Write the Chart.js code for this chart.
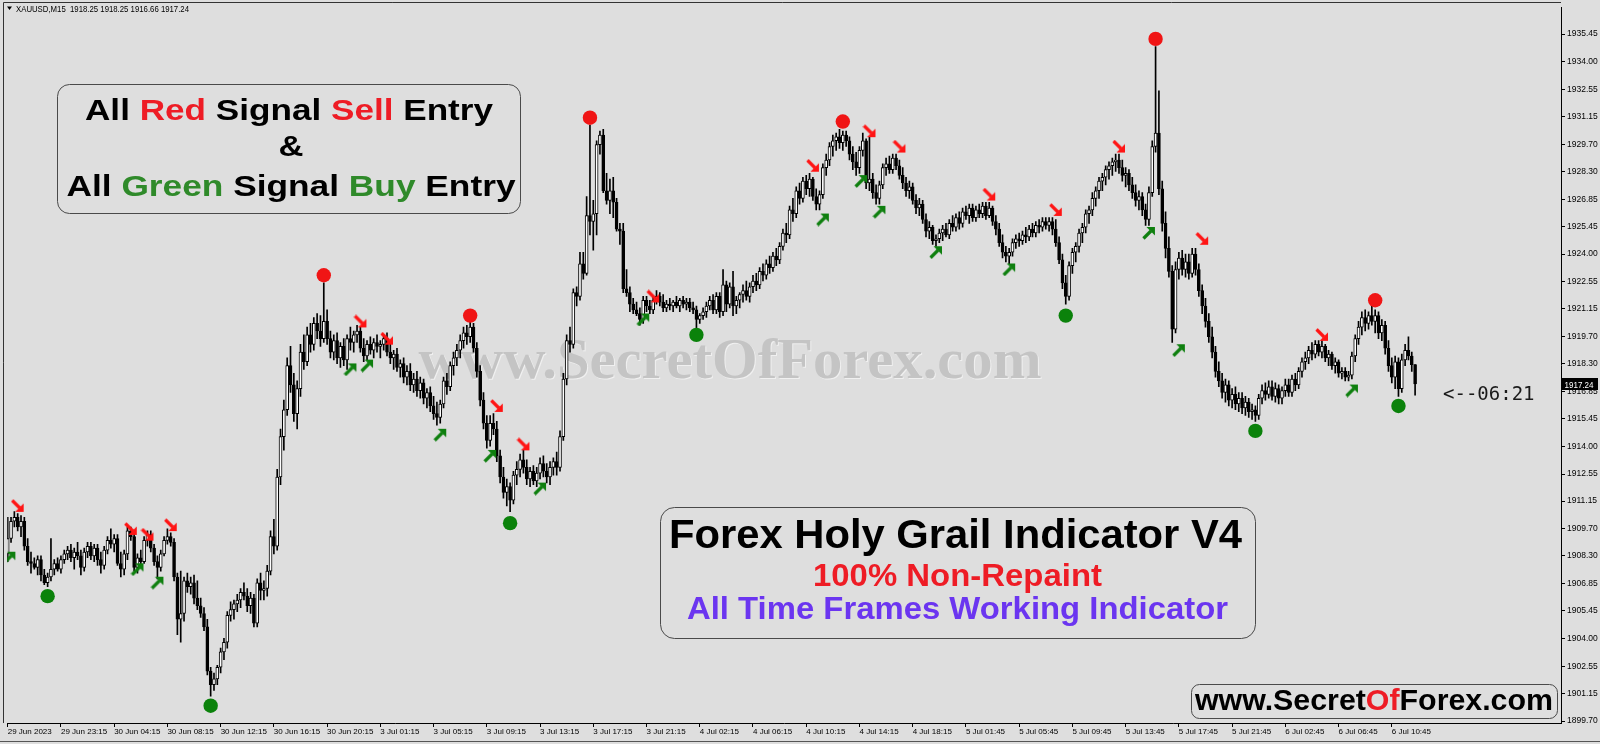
<!DOCTYPE html>
<html>
<head>
<meta charset="utf-8">
<script src="https://cdn.jsdelivr.net/npm/chart.js@4.4.1/dist/chart.umd.min.js"></script>
<style>
  html, body { margin: 0; padding: 0; background: #dedede; }
  canvas { display: block; }
</style>
</head>
<body>
<canvas id="chart" width="1600" height="744"></canvas>
<script>
// XAUUSD M15, bars (open, high, low, close)
const ohlc = [
  [1908.4,1910.3,1908.0,1909.2],[1909.2,1910.3,1909.0,1910.1],[1910.1,1910.6,1909.8,1910.3],[1910.3,1910.5,1909.6,1909.8],[1909.8,1910.4,1909.3,1910.1],
  [1910.1,1910.3,1908.6,1908.8],[1908.8,1909.2,1907.8,1908.0],[1908.0,1908.5,1907.4,1907.9],[1907.9,1908.2,1907.6,1907.7],[1907.7,1908.3,1907.3,1908.1],
  [1908.1,1908.3,1907.0,1907.3],[1907.3,1907.6,1906.8,1906.9],[1906.9,1907.4,1906.7,1907.2],[1907.2,1909.2,1907.0,1907.6],[1907.6,1908.1,1907.3,1907.9],
  [1907.9,1908.2,1907.5,1907.6],[1907.6,1908.3,1907.4,1908.1],[1908.1,1908.6,1907.9,1908.4],[1908.4,1908.8,1908.1,1908.6],[1908.6,1908.9,1908.0,1908.2],
  // 20
  [1908.2,1908.7,1907.6,1908.5],[1908.5,1909.0,1908.1,1908.3],[1908.3,1908.6,1907.3,1907.7],[1907.7,1908.7,1907.5,1908.5],[1908.5,1909.0,1908.2,1908.8],
  [1908.8,1909.0,1908.1,1908.3],[1908.3,1908.9,1908.0,1908.7],[1908.7,1908.9,1907.8,1908.1],[1908.1,1908.5,1907.4,1907.8],[1907.8,1908.8,1907.6,1908.6],
  [1908.6,1909.3,1908.4,1909.1],[1909.1,1909.7,1908.7,1908.9],[1908.9,1909.4,1908.5,1909.2],[1909.2,1909.4,1907.8,1907.9],[1907.9,1908.5,1907.2,1907.6],
  [1907.6,1908.6,1907.3,1908.4],[1908.4,1909.8,1908.1,1909.6],[1909.6,1909.8,1909.1,1909.3],[1909.3,1909.6,1907.5,1907.7],[1907.7,1908.4,1907.4,1908.2],
  // 40
  [1908.2,1908.6,1907.8,1908.0],[1908.0,1909.3,1907.9,1909.1],[1909.1,1909.6,1908.8,1909.4],[1909.4,1909.6,1908.5,1908.7],[1908.7,1908.9,1907.8,1908.0],
  [1908.0,1908.3,1907.1,1907.7],[1907.7,1908.6,1907.5,1908.4],[1908.4,1909.3,1908.3,1909.1],[1909.1,1909.7,1908.9,1909.3],[1909.3,1909.5,1908.8,1909.0],
  [1909.0,1909.2,1907.0,1907.2],[1907.2,1907.4,1904.2,1905.0],[1905.0,1907.5,1903.8,1905.3],[1905.3,1907.2,1904.9,1907.0],[1907.0,1907.4,1906.4,1906.7],
  [1906.7,1907.2,1906.3,1906.9],[1906.9,1907.3,1905.8,1906.1],[1906.1,1907.0,1905.5,1905.7],[1905.7,1906.1,1905.1,1905.3],[1905.3,1905.6,1904.4,1904.6],
  // 60
  [1904.6,1905.0,1902.1,1902.3],[1902.3,1902.5,1901.0,1901.6],[1901.6,1902.2,1901.3,1901.9],[1901.9,1902.6,1901.6,1902.5],[1902.5,1903.5,1902.2,1903.3],
  [1903.3,1904.0,1902.9,1903.8],[1903.8,1905.4,1903.5,1905.2],[1905.2,1905.9,1904.9,1905.5],[1905.5,1906.0,1905.0,1905.8],[1905.8,1906.3,1905.4,1906.0],
  [1906.0,1906.6,1905.6,1906.4],[1906.4,1906.9,1906.0,1906.2],[1906.2,1906.6,1905.4,1905.7],[1905.7,1906.4,1905.3,1906.1],[1906.1,1906.3,1904.6,1904.8],
  [1904.8,1907.1,1904.6,1906.9],[1906.9,1907.4,1906.0,1906.5],[1906.5,1907.0,1906.0,1906.6],[1906.6,1907.8,1906.2,1907.5],[1907.5,1909.6,1907.3,1909.3],
  // 80
  [1909.3,1910.2,1908.4,1908.8],[1908.8,1912.8,1908.6,1912.4],[1912.4,1914.9,1912.0,1914.5],[1914.5,1916.4,1913.8,1915.9],[1915.9,1918.6,1915.6,1918.2],
  [1918.2,1919.2,1916.8,1917.2],[1917.2,1917.8,1915.3,1915.7],[1915.7,1917.4,1914.9,1917.0],[1917.0,1919.3,1916.6,1918.9],[1918.9,1919.8,1918.0,1918.4],
  [1918.4,1920.2,1918.2,1919.8],[1919.8,1920.4,1918.9,1919.3],[1919.3,1920.7,1919.0,1920.4],[1920.4,1920.9,1919.6,1920.0],[1920.0,1920.8,1919.2,1919.6],
  [1919.6,1922.5,1919.4,1920.5],[1920.5,1921.1,1919.3,1919.6],[1919.6,1920.0,1918.6,1918.9],[1918.9,1919.8,1918.5,1919.5],[1919.5,1919.9,1918.3,1918.6],
  // 100
  [1918.6,1919.4,1918.1,1919.2],[1919.2,1919.6,1918.2,1918.5],[1918.5,1919.8,1918.0,1919.6],[1919.6,1920.2,1919.0,1919.4],[1919.4,1920.0,1918.9,1919.8],
  [1919.8,1920.3,1919.4,1920.0],[1920.0,1920.2,1918.9,1919.1],[1919.1,1919.6,1918.4,1918.7],[1918.7,1919.5,1918.5,1919.3],[1919.3,1919.7,1918.8,1919.0],
  [1919.0,1919.6,1918.6,1919.4],[1919.4,1919.8,1918.9,1919.2],[1919.2,1919.5,1918.6,1919.3],[1919.3,1919.8,1919.0,1919.6],[1919.6,1919.9,1918.7,1918.9],
  [1918.9,1919.3,1918.3,1918.6],[1918.6,1919.0,1918.0,1918.8],[1918.8,1919.1,1917.9,1918.1],[1918.1,1918.5,1917.6,1918.3],[1918.3,1918.6,1917.3,1917.6],
  // 120
  [1917.6,1918.2,1917.2,1917.9],[1917.9,1918.3,1916.9,1917.2],[1917.2,1917.8,1916.8,1917.5],[1917.5,1917.9,1916.6,1916.9],[1916.9,1917.6,1916.5,1917.3],
  [1917.3,1917.5,1916.2,1916.5],[1916.5,1917.0,1916.0,1916.8],[1916.8,1917.1,1915.8,1916.1],[1916.1,1916.6,1915.4,1915.7],[1915.7,1916.3,1915.1,1915.5],
  [1915.5,1916.4,1915.2,1916.2],[1916.2,1917.6,1916.0,1917.4],[1917.4,1917.8,1916.7,1917.1],[1917.1,1918.4,1916.9,1918.2],[1918.2,1918.9,1917.7,1918.6],
  [1918.6,1919.3,1918.2,1919.0],[1919.0,1919.8,1918.6,1919.5],[1919.5,1920.2,1919.1,1919.9],[1919.9,1920.3,1919.3,1919.7],[1919.7,1920.5,1919.4,1920.2],
  // 140
  [1920.2,1920.4,1918.9,1919.1],[1919.1,1919.4,1917.6,1917.9],[1917.9,1918.2,1916.1,1916.4],[1916.4,1916.8,1914.9,1915.2],[1915.2,1915.6,1913.9,1914.3],
  [1914.3,1915.6,1914.0,1915.2],[1915.2,1915.7,1914.6,1914.9],[1914.9,1915.3,1913.2,1913.5],[1913.5,1913.8,1912.1,1912.4],[1912.4,1912.9,1911.3,1911.6],
  [1911.6,1912.3,1910.9,1911.9],[1911.9,1912.1,1910.6,1911.2],[1911.2,1912.7,1911.0,1912.5],[1912.5,1913.2,1912.0,1912.8],[1912.8,1913.6,1912.4,1913.3],
  [1913.3,1913.8,1912.6,1912.9],[1912.9,1913.3,1912.0,1912.3],[1912.3,1912.9,1911.9,1912.7],[1912.7,1913.0,1912.0,1912.2],[1912.2,1912.9,1911.9,1912.6],
  // 160
  [1912.6,1913.4,1912.3,1913.1],[1913.1,1913.5,1912.4,1912.7],[1912.7,1913.1,1912.1,1912.4],[1912.4,1913.2,1912.0,1912.9],[1912.9,1913.4,1912.5,1913.2],
  [1913.2,1913.7,1912.5,1912.9],[1912.9,1914.8,1912.7,1914.5],[1914.5,1917.8,1914.3,1917.5],[1917.5,1919.8,1917.2,1919.5],[1919.5,1920.2,1918.9,1919.3],
  [1919.3,1922.2,1919.1,1922.0],[1922.0,1922.3,1921.3,1921.8],[1921.8,1924.1,1921.6,1923.5],[1923.5,1924.1,1922.7,1923.0],[1923.0,1927.0,1922.9,1926.0],
  [1926.0,1930.7,1925.0,1925.7],[1925.7,1926.8,1924.2,1926.1],[1926.1,1929.9,1925.0,1929.7],[1929.7,1930.4,1929.2,1930.2],[1930.2,1930.5,1927.2,1927.3],
  // 180
  [1927.3,1928.2,1926.6,1926.8],[1926.8,1927.9,1926.1,1927.3],[1927.3,1928.0,1925.9,1926.7],[1926.7,1926.9,1925.2,1925.3],[1925.3,1925.6,1924.5,1925.2],
  [1925.2,1925.6,1922.0,1922.2],[1922.2,1923.2,1921.8,1922.0],[1922.0,1922.3,1921.0,1921.4],[1921.4,1921.7,1920.9,1921.1],[1921.1,1921.5,1920.8,1920.9],
  [1920.9,1921.2,1920.3,1920.6],[1920.6,1921.8,1920.4,1921.6],[1921.6,1921.8,1921.0,1921.3],[1921.3,1921.6,1920.9,1921.1],[1921.1,1921.8,1920.9,1921.6],
  [1921.6,1922.1,1921.4,1921.8],[1921.8,1922.0,1921.3,1921.5],[1921.5,1921.9,1921.0,1921.2],[1921.2,1921.6,1921.0,1921.4],[1921.4,1921.7,1921.1,1921.3],
  // 200
  [1921.3,1921.6,1921.0,1921.5],[1921.5,1921.8,1921.2,1921.3],[1921.3,1921.7,1921.0,1921.6],[1921.6,1921.8,1921.2,1921.4],[1921.4,1921.7,1921.1,1921.5],
  [1921.5,1921.7,1921.0,1921.2],[1921.2,1921.5,1920.9,1921.1],[1921.1,1921.3,1920.1,1920.6],[1920.6,1920.9,1920.4,1920.8],[1920.8,1921.2,1920.6,1921.0],
  [1921.0,1921.5,1920.7,1921.3],[1921.3,1921.8,1921.1,1921.6],[1921.6,1921.9,1920.9,1921.1],[1921.1,1922.0,1920.9,1921.8],[1921.8,1922.0,1920.7,1921.0],
  [1921.0,1923.2,1920.8,1922.4],[1922.4,1922.6,1921.0,1921.4],[1921.4,1922.5,1921.2,1922.3],[1922.3,1923.1,1920.8,1921.3],[1921.3,1921.8,1920.9,1921.6],
  // 220
  [1921.6,1922.0,1921.2,1921.9],[1921.9,1922.4,1921.5,1922.1],[1922.1,1922.6,1921.6,1921.8],[1921.8,1922.5,1921.5,1922.3],[1922.3,1922.9,1922.0,1922.6],
  [1922.6,1923.0,1922.1,1922.4],[1922.4,1923.3,1922.2,1923.1],[1923.1,1923.5,1922.6,1922.9],[1922.9,1923.7,1922.7,1923.5],[1923.5,1923.9,1923.0,1923.3],
  [1923.3,1924.1,1923.1,1923.9],[1923.9,1924.3,1923.4,1923.7],[1923.7,1924.6,1923.5,1924.4],[1924.4,1925.3,1924.2,1925.1],[1925.1,1925.6,1924.6,1925.0],
  [1925.0,1926.5,1924.8,1926.3],[1926.3,1926.9,1925.7,1926.1],[1926.1,1927.5,1925.9,1927.3],[1927.3,1927.7,1926.6,1926.9],[1926.9,1928.0,1926.7,1927.8],
  // 240
  [1927.8,1928.1,1927.1,1927.4],[1927.4,1928.2,1927.0,1927.9],[1927.9,1928.0,1926.8,1927.0],[1927.0,1927.4,1926.3,1926.6],[1926.6,1927.3,1926.3,1927.1],
  [1927.1,1928.7,1926.9,1928.5],[1928.5,1929.2,1928.1,1928.9],[1928.9,1929.8,1928.6,1929.6],[1929.6,1930.2,1929.1,1929.9],[1929.9,1930.3,1929.4,1930.1],
  [1930.1,1930.5,1929.5,1929.8],[1929.8,1930.4,1929.4,1930.2],[1930.2,1930.4,1929.6,1929.9],[1929.9,1930.1,1928.9,1929.2],[1929.2,1929.6,1928.4,1928.8],
  [1928.8,1929.3,1928.1,1928.5],[1928.5,1929.6,1928.2,1929.4],[1929.4,1930.3,1929.1,1929.9],[1929.9,1930.0,1927.4,1927.7],[1927.7,1930.1,1927.3,1927.9],
  // 260
  [1927.9,1928.2,1926.9,1927.2],[1927.2,1927.6,1926.6,1926.9],[1926.9,1927.8,1926.6,1927.6],[1927.6,1928.7,1927.4,1928.5],[1928.5,1929.0,1928.1,1928.7],
  [1928.7,1929.1,1928.2,1928.4],[1928.4,1929.2,1928.2,1929.0],[1929.0,1929.2,1928.4,1928.6],[1928.6,1928.9,1927.9,1928.1],[1928.1,1928.5,1927.4,1927.7],
  [1927.7,1928.0,1927.0,1927.3],[1927.3,1927.8,1926.9,1927.5],[1927.5,1927.7,1926.6,1926.8],[1926.8,1927.1,1926.1,1926.4],[1926.4,1926.9,1926.0,1926.6],
  [1926.6,1926.8,1925.6,1925.8],[1925.8,1926.1,1924.9,1925.2],[1925.2,1925.7,1924.8,1925.4],[1925.4,1925.5,1924.5,1924.7],[1924.7,1925.0,1924.4,1924.8],
  // 280
  [1924.8,1925.3,1924.6,1925.1],[1925.1,1925.5,1924.7,1925.3],[1925.3,1925.6,1924.9,1925.0],[1925.0,1925.8,1924.8,1925.6],[1925.6,1926.0,1925.2,1925.4],
  [1925.4,1926.1,1925.2,1925.9],[1925.9,1926.2,1925.3,1925.6],[1925.6,1926.4,1925.4,1926.2],[1926.2,1926.5,1925.8,1926.0],[1926.0,1926.6,1925.6,1926.4],
  [1926.4,1926.6,1925.7,1925.9],[1925.9,1926.5,1925.7,1926.3],[1926.3,1926.6,1925.9,1926.1],[1926.1,1926.7,1925.9,1926.5],[1926.5,1926.7,1925.8,1926.0],
  [1926.0,1926.7,1925.9,1926.4],[1926.4,1926.5,1925.5,1925.7],[1925.7,1926.0,1925.0,1925.3],[1925.3,1925.6,1924.4,1924.6],[1924.6,1925.0,1923.8,1924.1],
  // 300
  [1924.1,1924.4,1923.6,1923.9],[1923.9,1924.3,1923.5,1924.1],[1924.1,1924.8,1923.9,1924.6],[1924.6,1925.0,1924.3,1924.8],[1924.8,1925.1,1924.4,1924.7],
  [1924.7,1925.2,1924.5,1925.0],[1925.0,1925.4,1924.6,1924.9],[1924.9,1925.5,1924.7,1925.3],[1925.3,1925.6,1924.9,1925.1],[1925.1,1925.7,1924.9,1925.5],
  [1925.5,1925.8,1925.1,1925.4],[1925.4,1925.9,1925.2,1925.7],[1925.7,1925.9,1925.3,1925.5],[1925.5,1925.9,1925.2,1925.7],[1925.7,1925.9,1925.0,1925.3],
  [1925.3,1925.8,1924.4,1924.6],[1924.6,1924.9,1923.5,1923.7],[1923.7,1924.0,1922.2,1922.5],[1922.5,1922.9,1921.4,1921.8],[1921.8,1923.6,1921.6,1923.4],
  // 320
  [1923.4,1924.3,1923.0,1924.1],[1924.1,1924.6,1923.6,1924.4],[1924.4,1925.3,1924.1,1925.1],[1925.1,1925.6,1924.6,1925.4],[1925.4,1926.3,1925.1,1926.1],
  [1926.1,1926.5,1925.6,1926.3],[1926.3,1927.2,1926.0,1926.9],[1926.9,1927.5,1926.5,1927.3],[1927.3,1928.0,1926.9,1927.8],[1927.8,1928.2,1927.3,1928.0],
  [1928.0,1928.6,1927.6,1928.4],[1928.4,1928.8,1927.9,1928.6],[1928.6,1929.0,1928.1,1928.8],[1928.8,1929.2,1928.3,1928.9],[1928.9,1929.2,1928.2,1928.5],
  [1928.5,1928.9,1927.8,1928.1],[1928.1,1928.5,1927.5,1928.2],[1928.2,1928.4,1927.3,1927.6],[1927.6,1928.0,1926.9,1927.2],[1927.2,1927.6,1926.5,1926.8],
  // 340
  [1926.8,1927.3,1926.3,1927.0],[1927.0,1927.2,1926.0,1926.3],[1926.3,1926.6,1925.5,1925.8],[1925.8,1927.5,1925.5,1927.2],[1927.2,1929.9,1927.0,1929.6],
  [1929.6,1934.8,1929.3,1930.3],[1930.3,1932.5,1927.1,1927.4],[1927.4,1927.8,1925.2,1925.6],[1925.6,1926.2,1923.8,1924.3],[1924.3,1924.9,1922.8,1923.1],
  [1923.1,1923.4,1919.4,1920.1],[1920.1,1923.6,1919.9,1923.2],[1923.2,1924.1,1922.7,1923.8],[1923.8,1924.2,1922.9,1923.2],[1923.2,1924.0,1922.8,1923.6],
  [1923.6,1924.0,1922.7,1923.0],[1923.0,1924.3,1922.8,1924.0],[1924.0,1924.3,1922.9,1923.2],[1923.2,1923.5,1921.8,1922.1],[1922.1,1922.4,1920.9,1921.3],
  // 360
  [1921.3,1921.7,1920.2,1920.5],[1920.5,1920.9,1919.4,1919.7],[1919.7,1920.2,1918.6,1918.9],[1918.9,1919.2,1917.6,1917.9],[1917.9,1918.4,1917.1,1917.4],
  [1917.4,1917.8,1916.5,1916.8],[1916.8,1917.5,1916.3,1917.2],[1917.2,1917.4,1916.1,1916.4],[1916.4,1917.0,1916.0,1916.7],[1916.7,1917.1,1915.9,1916.2],
  [1916.2,1916.8,1915.8,1916.5],[1916.5,1916.8,1915.7,1916.0],[1916.0,1916.6,1915.6,1916.3],[1916.3,1916.5,1915.5,1915.8],[1915.8,1916.2,1915.4,1915.9],
  [1915.9,1916.1,1915.3,1915.6],[1915.6,1916.7,1915.4,1916.5],[1916.5,1917.2,1916.2,1916.9],[1916.9,1917.3,1916.4,1916.7],[1916.7,1917.4,1916.5,1917.1],
  // 380
  [1917.1,1917.4,1916.4,1916.6],[1916.6,1917.3,1916.3,1917.0],[1917.0,1917.2,1916.2,1916.5],[1916.5,1917.1,1916.2,1916.9],[1916.9,1917.5,1916.6,1917.2],
  [1917.2,1917.5,1916.6,1916.8],[1916.8,1917.7,1916.6,1917.5],[1917.5,1917.8,1916.9,1917.2],[1917.2,1918.1,1917.0,1917.9],[1917.9,1918.6,1917.6,1918.4],
  [1918.4,1918.9,1918.0,1918.6],[1918.6,1919.2,1918.3,1919.0],[1919.0,1919.4,1918.5,1918.8],[1918.8,1919.5,1918.6,1919.3],[1919.3,1919.5,1918.7,1918.9],
  [1918.9,1919.5,1918.6,1919.2],[1919.2,1919.3,1918.4,1918.6],[1918.6,1919.0,1918.2,1918.8],[1918.8,1918.9,1918.0,1918.2],[1918.2,1918.6,1917.8,1918.4],
  // 400
  [1918.4,1918.5,1917.6,1917.8],[1917.8,1918.1,1917.5,1917.9],[1917.9,1918.1,1917.4,1917.6],[1917.6,1917.9,1917.4,1917.7],[1917.7,1918.9,1917.5,1918.7],
  [1918.7,1919.8,1918.4,1919.6],[1919.6,1920.5,1919.3,1920.2],[1920.2,1921.0,1919.8,1920.7],[1920.7,1921.1,1920.0,1920.4],[1920.4,1921.0,1920.1,1920.8],
  [1920.8,1921.3,1920.3,1920.5],[1920.5,1921.1,1919.9,1920.8],[1920.8,1921.0,1919.6,1919.9],[1919.9,1920.6,1919.5,1920.3],[1920.3,1920.5,1918.8,1919.1],
  [1919.1,1919.5,1917.9,1918.2],[1918.2,1918.6,1917.3,1917.6],[1917.6,1918.7,1917.0,1918.4],[1918.4,1918.6,1916.6,1917.0],[1917.0,1918.8,1916.8,1918.5],
  // 420
  [1918.5,1919.3,1918.2,1919.0],[1919.0,1919.7,1918.5,1918.7],[1918.7,1918.9,1917.9,1918.25],[1918.25,1918.25,1916.66,1917.24]
];

// indicator signals: [bar index, price]
const sellDots = [[95, 1922.9], [139, 1920.8], [175, 1931.1], [251, 1930.9], [345, 1935.2], [411, 1921.6]];
const buyDots = [[12, 1906.2], [61, 1900.5], [151, 1910.0], [207, 1919.8], [318, 1920.8], [375, 1914.8], [418, 1916.1]];
const sellArrows = [[3, 1910.9], [37, 1909.7], [42, 1909.4], [49, 1909.9], [106, 1920.5], [114, 1919.6], [147, 1916.1],
  [155, 1914.1], [194, 1921.8], [242, 1928.6], [259, 1930.4], [268, 1929.6], [295, 1927.1], [315, 1926.3], [334, 1929.6],
  [359, 1924.8], [395, 1919.8]];
const buyArrows = [[0.5, 1908.2], [39, 1907.6], [45, 1906.9], [103, 1918.0], [108, 1918.2], [130, 1914.6], [145, 1913.5],
  [160, 1911.8], [191, 1920.6], [245, 1925.8], [256.5, 1927.8], [262, 1926.2], [279, 1924.1], [301, 1923.2], [343, 1925.1],
  [352, 1919.0], [404, 1916.9]];

// one label every 16 bars
const xTickLabels = ['29 Jun 2023', '29 Jun 23:15', '30 Jun 04:15', '30 Jun 08:15', '30 Jun 12:15', '30 Jun 16:15',
  '30 Jun 20:15', '3 Jul 01:15', '3 Jul 05:15', '3 Jul 09:15', '3 Jul 13:15', '3 Jul 17:15', '3 Jul 21:15',
  '4 Jul 02:15', '4 Jul 06:15', '4 Jul 10:15', '4 Jul 14:15', '4 Jul 18:15', '5 Jul 01:45', '5 Jul 05:45',
  '5 Jul 09:45', '5 Jul 13:45', '5 Jul 17:45', '5 Jul 21:45', '6 Jul 02:45', '6 Jul 06:45', '6 Jul 10:45'];
const yTickValues = [1935.45, 1934.00, 1932.55, 1931.15, 1929.70, 1928.30, 1926.85, 1925.45, 1924.00, 1922.55,
  1921.15, 1919.70, 1918.30, 1916.85, 1915.45, 1914.00, 1912.55, 1911.15, 1909.70, 1908.30, 1906.85, 1905.45,
  1904.00, 1902.55, 1901.15, 1899.70];

const BG = '#dedede';
const RED = '#ee1c25';
const GREEN = '#2f8a2a';
const PURPLE = '#6b35f0';

function makeArrow(color, down) {
  const c = document.createElement('canvas');
  c.width = 14; c.height = 14;
  const g = c.getContext('2d');
  g.fillStyle = color; g.strokeStyle = color; g.lineWidth = 3.2;
  g.beginPath();
  if (down) {
    g.moveTo(1.5, 1.5); g.lineTo(9, 9); g.stroke();
    g.beginPath(); g.moveTo(13, 13); g.lineTo(13, 4.5); g.lineTo(4.5, 13);
  } else {
    g.moveTo(1.5, 12.5); g.lineTo(9, 5); g.stroke();
    g.beginPath(); g.moveTo(13, 1); g.lineTo(4.5, 1); g.lineTo(13, 9.5);
  }
  g.closePath(); g.fill();
  return c;
}

function drawRuns(ctx, runs, cx, baseline, font, targetWidth) {
  ctx.font = font;
  const widths = runs.map(r => ctx.measureText(r[0]).width);
  const total = widths.reduce((a, b) => a + b, 0);
  const sx = targetWidth ? targetWidth / total : 1;
  ctx.save();
  ctx.translate(cx - total * sx / 2, baseline);
  ctx.scale(sx, 1);
  ctx.textAlign = 'left';
  ctx.textBaseline = 'alphabetic';
  let x = 0;
  runs.forEach((r, i) => { ctx.fillStyle = r[1]; ctx.fillText(r[0], x, 0); x += widths[i]; });
  ctx.restore();
}

function roundBox(ctx, x1, y1, x2, y2, r) {
  ctx.beginPath();
  ctx.roundRect(x1 + 0.5, y1 + 0.5, x2 - x1, y2 - y1, r);
  ctx.fillStyle = BG;
  ctx.fill();
  ctx.lineWidth = 1;
  ctx.strokeStyle = '#4a4a4a';
  ctx.stroke();
}

const backdrop = {
  id: 'backdrop',
  beforeDraw(chart) {
    const ctx = chart.ctx;
    ctx.save();
    ctx.fillStyle = BG;
    ctx.fillRect(0, 0, chart.width, chart.height);
    ctx.restore();
  },
  beforeDatasetsDraw(chart) {
    const ctx = chart.ctx;
    ctx.save();
    drawRuns(ctx, [['www.SecretOfForex.com', '#f0f0f0']], 731, 379, 'bold 58px "Liberation Serif"', 623);
    drawRuns(ctx, [['www.SecretOfForex.com', '#c4c4c4']], 730, 378, 'bold 58px "Liberation Serif"', 623);
    ctx.restore();
  }
};

const overlay = {
  id: 'overlay',
  afterDraw(chart) {
    const ctx = chart.ctx;
    const a = chart.chartArea;
    const y = chart.scales.y;
    ctx.save();
    // chart frame
    ctx.strokeStyle = '#333';
    ctx.lineWidth = 1;
    ctx.beginPath();
    ctx.moveTo(3.5, a.bottom); ctx.lineTo(3.5, 2.5); ctx.lineTo(a.right, 2.5);
    ctx.stroke();
    ctx.strokeStyle = '#555';
    ctx.beginPath(); ctx.moveTo(0, 741.5); ctx.lineTo(1600, 741.5); ctx.stroke();

    // title
    ctx.fillStyle = '#000';
    ctx.beginPath(); ctx.moveTo(7, 6.5); ctx.lineTo(12, 6.5); ctx.lineTo(9.5, 10); ctx.closePath(); ctx.fill();
    drawRuns(ctx, [['XAUUSD,M15  1918.25 1918.25 1916.66 1917.24', '#000']], 102.5, 12, '9px "Liberation Sans"', 173);

    // box 1
    roundBox(ctx, 57, 84, 520, 213, 12);
    const f1 = 'bold 29px "Liberation Sans"';
    drawRuns(ctx, [['All ', '#000'], ['Red', RED], [' Signal ', '#000'], ['Sell', RED], [' Entry', '#000']], 289, 119.5, f1, 408);
    drawRuns(ctx, [['&', '#000']], 291, 156, f1, 25);
    drawRuns(ctx, [['All ', '#000'], ['Green', GREEN], [' Signal ', '#000'], ['Buy', GREEN], [' Entry', '#000']], 291, 195.5, f1, 449);

    // box 2
    roundBox(ctx, 660, 507, 1255, 638, 14);
    drawRuns(ctx, [['Forex Holy Grail Indicator V4', '#000']], 955.5, 548, 'bold 40px "Liberation Sans"', 573);
    drawRuns(ctx, [['100% Non-Repaint', RED]], 957.5, 586, 'bold 32px "Liberation Sans"', 289);
    drawRuns(ctx, [['All Time Frames Working Indicator', PURPLE]], 957.5, 619, 'bold 32px "Liberation Sans"', 541);

    // box 3
    roundBox(ctx, 1191, 684, 1557, 718, 8);
    drawRuns(ctx, [['www.Secret', '#000'], ['Of', RED], ['Forex.com', '#000']], 1374, 710, 'bold 30px "Liberation Sans"', 358);

    // current price tag and bar countdown
    const last = ohlc[ohlc.length - 1][3];
    const py = Math.round(y.getPixelForValue(last));
    ctx.fillStyle = '#000';
    ctx.fillRect(1562, py - 6, 36, 12);
    drawRuns(ctx, [[last.toFixed(2), '#fff']], 1579, py + 3.5, '8.5px "Liberation Sans"', 29);
    ctx.fillStyle = '#1a1a1a';
    ctx.font = '19px "DejaVu Sans Mono"';
    ctx.textBaseline = 'alphabetic';
    ctx.textAlign = 'left';
    ctx.fillText('<--06:21', 1443, 400);
    ctx.restore();
  }
};

const bodies = ohlc.map(([o, h, l, c], i) => ({ x: i, y: [o, c] }));
const wicks = ohlc.map(([o, h, l, c], i) => ({ x: i, y: [l, h] }));
const bodyFill = ohlc.map(([o, h, l, c]) => (c >= o ? '#ffffff' : '#000000'));
const pts = arr => arr.map(([x, y]) => ({ x, y }));

new Chart(document.getElementById('chart'), {
  type: 'bar',
  data: {
    datasets: [
      { type: 'bar', data: bodies, backgroundColor: bodyFill, borderColor: '#000', borderWidth: 1,
        borderSkipped: false, barThickness: 3, minBarLength: 1, grouped: false, order: 1 },
      { type: 'bar', data: wicks, backgroundColor: '#000', borderWidth: 0, barThickness: 1,
        grouped: false, order: 2 },
      { type: 'scatter', data: pts(sellDots), pointStyle: 'circle', pointRadius: 7.2, pointBorderWidth: 0,
        pointBackgroundColor: '#f01515', order: 0 },
      { type: 'scatter', data: pts(buyDots), pointStyle: 'circle', pointRadius: 7.2, pointBorderWidth: 0,
        pointBackgroundColor: '#0b820b', order: 0 },
      { type: 'scatter', data: pts(sellArrows), pointStyle: makeArrow('#ff1414', true), order: 0 },
      { type: 'scatter', data: pts(buyArrows), pointStyle: makeArrow('#0e7f0e', false), order: 0 }
    ]
  },
  options: {
    responsive: false,
    animation: false,
    events: [],
    layout: { padding: { left: 4, top: 3, right: 0, bottom: 0 } },
    plugins: { legend: { display: false }, tooltip: { enabled: false } },
    scales: {
      x: {
        type: 'linear', min: -0.15, max: 466.85, offset: false,
        grid: { offset: false, drawOnChartArea: false, drawTicks: true, tickLength: 4, color: '#000' },
        border: { color: '#000', width: 1 },
        afterBuildTicks: s => { s.ticks = xTickLabels.map((_, k) => ({ value: k * 16 })); },
        afterFit: s => { s.height = 21; },
        ticks: {
          autoSkip: false, maxRotation: 0, minRotation: 0, align: 'start', padding: 0,
          color: '#000', font: { family: 'Liberation Sans', size: 8 },
          callback: (v, i) => xTickLabels[i]
        }
      },
      y: {
        position: 'right', min: 1899.6, max: 1936.85, beginAtZero: false,
        grid: { drawOnChartArea: false, drawTicks: true, tickLength: 4, color: '#000' },
        border: { color: '#000', width: 1 },
        afterBuildTicks: s => { s.ticks = yTickValues.map(v => ({ value: v })); },
        afterFit: s => { s.width = 39; },
        ticks: {
          autoSkip: false, padding: 2, color: '#000', font: { family: 'Liberation Sans', size: 8.5 },
          callback: v => v.toFixed(2)
        }
      }
    }
  },
  plugins: [backdrop, overlay]
});
</script>
</body>
</html>
